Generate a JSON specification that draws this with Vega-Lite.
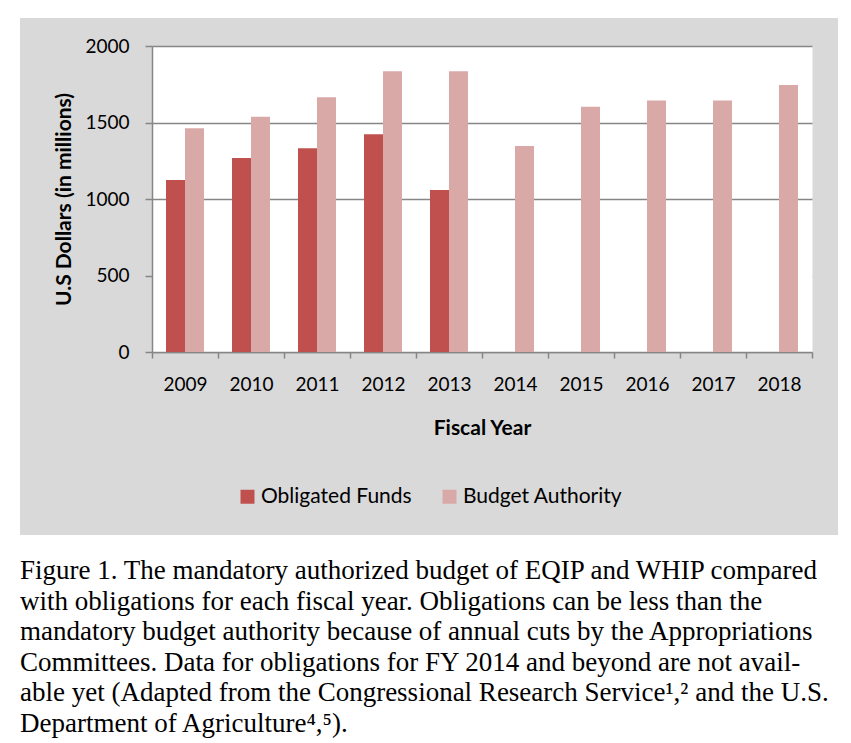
{
  "$schema": "https://vega.github.io/schema/vega-lite/v6.json",
  "width": 818,
  "height": 517,
  "autosize": {"type": "none"},
  "padding": {"left": 20, "top": 18, "right": 13, "bottom": 208},
  "background": "white",
  "title": {
    "text": [
      "Figure 1. The mandatory authorized budget of EQIP and WHIP compared",
      "with obligations for each fiscal year. Obligations can be less than the",
      "mandatory budget authority because of annual cuts by the Appropriations",
      "Committees. Data for obligations for FY 2014 and beyond are not avail-",
      "able yet (Adapted from the Congressional Research Service¹,² and the U.S.",
      "Department of Agriculture⁴,⁵)."
    ],
    "orient": "bottom",
    "anchor": "start",
    "frame": "group",
    "font": "Liberation Serif",
    "fontSize": 27,
    "fontWeight": "normal",
    "color": "black",
    "lineHeight": 30.5,
    "offset": 23
  },
  "data": {
    "values": [
      {"year": "2009", "series": "Obligated Funds", "value": 1124},
      {"year": "2010", "series": "Obligated Funds", "value": 1268},
      {"year": "2011", "series": "Obligated Funds", "value": 1331},
      {"year": "2012", "series": "Obligated Funds", "value": 1423},
      {"year": "2013", "series": "Obligated Funds", "value": 1059},
      {"year": "2009", "series": "Budget Authority", "value": 1462},
      {"year": "2010", "series": "Budget Authority", "value": 1538},
      {"year": "2011", "series": "Budget Authority", "value": 1665},
      {"year": "2012", "series": "Budget Authority", "value": 1835},
      {"year": "2013", "series": "Budget Authority", "value": 1835},
      {"year": "2014", "series": "Budget Authority", "value": 1346},
      {"year": "2015", "series": "Budget Authority", "value": 1603},
      {"year": "2016", "series": "Budget Authority", "value": 1643},
      {"year": "2017", "series": "Budget Authority", "value": 1643},
      {"year": "2018", "series": "Budget Authority", "value": 1745}
    ]
  },
  "mark": {"type": "bar"},
  "encoding": {
    "x": {
      "field": "year",
      "type": "ordinal",
      "scale": {"range": [132, 792], "paddingInner": 0, "paddingOuter": 0},
      "axis": {
        "title": "Fiscal Year",
        "labelAngle": 0,
        "offset": -183,
        "ticks": true,
        "tickBand": "extent",
        "tickSize": 6,
        "tickColor": "#868686",
        "tickWidth": 1.5,
        "domainColor": "#868686",
        "domainWidth": 1.5,
        "grid": false,
        "labelFont": "Lato",
        "labelFontSize": 19,
        "labelColor": "black",
        "labelPadding": 17,
        "titleFont": "Lato",
        "titleFontSize": 21,
        "titleFontWeight": "bold",
        "titleColor": "black",
        "titlePadding": 23
      }
    },
    "xOffset": {
      "field": "series",
      "type": "nominal",
      "scale": {"domain": ["Obligated Funds", "Budget Authority"], "paddingInner": 0, "paddingOuter": 0.737}
    },
    "y": {
      "field": "value",
      "type": "quantitative",
      "scale": {"domain": [0, 2000], "range": [334, 28], "nice": false},
      "axis": {
        "title": "U.S Dollars (in millions)",
        "offset": -132,
        "values": [999.99, 0, 500, 1000, 1500, 2000],
        "labelExpr": "datum.value == 999.99 ? '' : datum.label",
        "format": "d",
        "labelOverlap": false,
        "grid": true,
        "gridColor": {"condition": {"test": "datum.value == 999.99", "value": "white"}, "value": "#868686"},
        "gridWidth": {"condition": {"test": "datum.value == 999.99", "value": 306}, "value": 1.6},
        "gridOpacity": 1,
        "domainColor": "#868686",
        "domainWidth": 1.5,
        "tickColor": "#868686",
        "tickOpacity": {"condition": {"test": "datum.value == 999.99", "value": 0}, "value": 1},
        "tickWidth": 1.5,
        "tickSize": 7,
        "labelPadding": 16,
        "labelFont": "Lato",
        "labelFontSize": 19,
        "labelColor": "black",
        "titleFont": "Lato",
        "titleFontSize": 21,
        "titleFontWeight": "bold",
        "titleColor": "black",
        "titlePadding": 10
      }
    },
    "color": {
      "field": "series",
      "type": "nominal",
      "scale": {"domain": ["Obligated Funds", "Budget Authority"], "range": ["#c0504d", "#d9a9a8"]},
      "legend": {
        "orient": "none",
        "legendX": 217,
        "legendY": 468,
        "direction": "horizontal",
        "title": null,
        "symbolType": "square",
        "symbolSize": 196,
        "symbolStrokeWidth": 0,
        "labelFont": "Lato",
        "labelFontSize": 21,
        "labelColor": "black",
        "labelOffset": 3,
        "columnPadding": 27
      }
    }
  },
  "config": {
    "view": {"fill": "#d9d9d9", "stroke": null}
  }
}
